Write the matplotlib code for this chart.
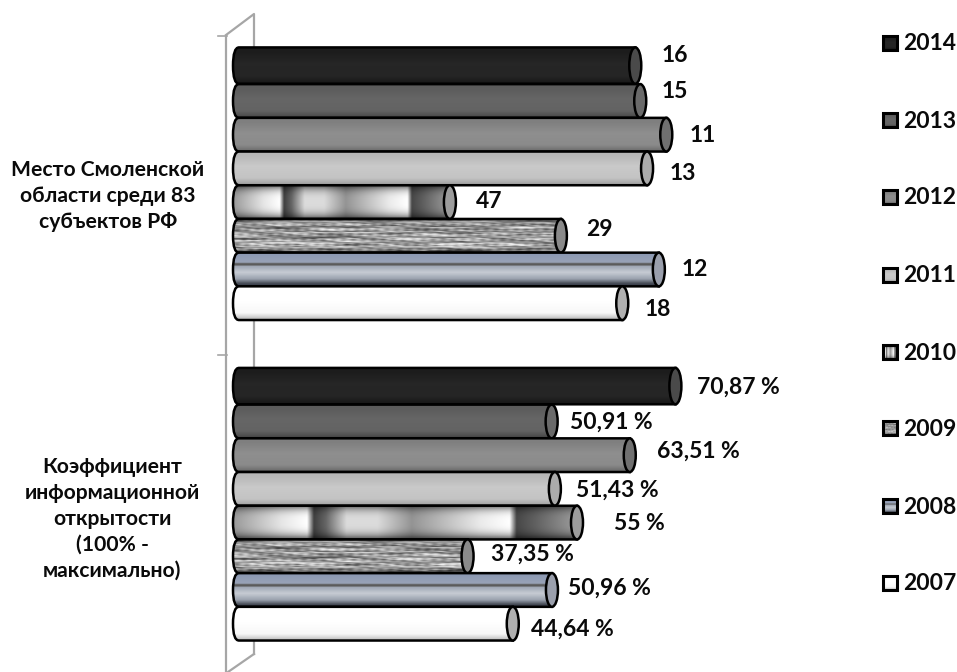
import numpy as np
import matplotlib
matplotlib.use("Agg")
import matplotlib.pyplot as plt
from matplotlib.patches import Ellipse, PathPatch, Rectangle
from matplotlib.path import Path

plt.rcParams['font.family'] = ['Lato', 'DejaVu Sans']
plt.rcParams['font.weight'] = 'bold'

# ---------- data ----------
years = ['2014', '2013', '2012', '2011', '2010', '2009', '2008', '2007']
group_labels = ['Место Смоленской\nобласти среди 83\nсубъектов РФ',
                'Коэффициент\nинформационной\nоткрытости\n(100% -\nмаксимально)']
# drawn bar lengths (rank group is drawn reversed)
rank_lengths = [64.4, 65.2, 69.4, 66.3, 34.5, 52.4, 68.2, 62.3]
rank_labels = ['16', '15', '11', '13', '47', '29', '12', '18']
coef_values = [70.87, 50.91, 63.51, 51.43, 55.0, 37.35, 50.96, 44.64]
coef_labels = ['70,87 %', '50,91 %', '63,51 %', '51,43 %', '55 %', '37,35 %', '50,96 %', '44,64 %']

# ---------- layout ----------
W, H = 957, 672
X0, PX_PER_UNIT = 236.0, 6.2
ROW, Y0 = 33.7, 67.3
GROUP_OFFSET = [0.0, 9.51]
rank_label_pos = [(662, 55), (662, 92), (690, 135), (670, 173), (476, 201), (586, 230), (682, 269), (645, 309)]
coef_label_pos = [(697, 387), (570, 422), (657, 451), (576, 490), (614, 523), (491, 554), (568, 588), (531, 629)]
legend_y = [43, 120, 197, 275, 352, 428, 506, 583]
cap_colors = ['#4a4a4a', '#6a6a6a', '#707070', '#ababab', '#9c9c9c', '#8a8a8a', '#9a9fac', '#b0b0b0']

fig = plt.figure(figsize=(W / 100, H / 100), dpi=100, facecolor='white')
over_back = fig.add_axes([0, 0, 1, 1], zorder=0)
ax = fig.add_axes([0, 0, 1, 1], zorder=1)
over = fig.add_axes([0, 0, 1, 1], zorder=2)
for a in (over_back, over):
    a.set_xlim(0, W); a.set_ylim(H, 0); a.axis('off'); a.patch.set_alpha(0)
ax.axis('off'); ax.patch.set_alpha(0)
XLIM = (-X0 / PX_PER_UNIT, (W - X0) / PX_PER_UNIT)
YLIM = ((H - Y0) / ROW, -Y0 / ROW)


def texture(idx, length=1.0, h=44):
    w = 500
    v = np.linspace(0, 1, h)[:, None]
    t = np.linspace(0, 1, w)[None, :]
    if idx in (0, 1, 2, 3, 7):
        base = {0: (.11, .15, .10), 1: (.36, .40, .30), 2: (.50, .56, .44),
                3: (.72, .79, .66), 7: (1.0, 1.0, .78)}[idx]
        g = np.interp(v, [0, .12, .45, .8, .95, 1],
                      [base[0], base[0], base[1], base[1] * .97, base[2], base[2] * .85])
        return np.dstack([g] * 3) * np.ones((h, w, 1))
    if idx == 4:
        kn = [0, .14, .215, .235, .27, .33, .42, .52, .72, .805, .825, .88, 1]
        va = [.60, .90, 1.0, .25, .40, .86, .86, .58, .92, 1.0, .28, .38, .62]
        g = np.interp(t, kn, va) * np.ones((h, w))
        g = g * (1 - 0.6 * np.abs(2 * v - 1) ** 3)
        return np.dstack([g] * 3)
    if idx == 5:
        xx = t * 500 * length
        yy = v * 44
        s = np.zeros((h, w))
        fx = [.013, .021, .034, .055, .089, .144, .233, .017, .071]
        fy = [.31, 1.27, .83, 2.11, 1.63, 2.71, .47, 1.91, 2.43]
        ph = [.4, 1.9, 3.1, 5.2, 2.3, 4.4, .9, 3.7, 1.2]
        for a_, b_, c_ in zip(fx, fy, ph):
            s = s + np.sin(a_ * xx + .35 * b_ * yy + c_) * np.sin(b_ * yy + c_ * 1.7) \
                * np.sin(a_ * 1.37 * xx + c_ * .6)
        g = .62 + .16 * s
        g = np.clip(g, .25, .95) * (1 - .55 * np.abs(2 * v - 1) ** 6)
        return np.dstack([g] * 3)
    # 2008 steel
    kn = [0, .05, .30, .335, .385, .41, .46, .60, .80, .92, 1]
    r = np.interp(v, kn, [.50, .55, .60, .36, .36, .62, .66, .78, .60, .30, .20])
    g = np.interp(v, kn, [.54, .60, .64, .36, .36, .65, .69, .80, .63, .32, .22])
    b = np.interp(v, kn, [.62, .70, .72, .36, .36, .70, .74, .83, .68, .36, .27])
    return np.dstack([r, g, b]) * np.ones((h, w, 1))


def rounded_path(x, y, w, h, r, a):
    yt, yb = y, y + h
    return Path([(x + w, yt), (x + a, yt), (x - r, yt), (x - r, yt + h * .5),
                 (x - r, yb), (x + a, yb), (x + w, yb), (x + w, yt)],
                [Path.MOVETO, Path.LINETO, Path.CURVE3, Path.CURVE3, Path.CURVE3, Path.CURVE3,
                 Path.LINETO, Path.CLOSEPOLY])


CAP_W = 12 / PX_PER_UNIT
END_R = 3 / PX_PER_UNIT
END_A = 3 / PX_PER_UNIT
for g, values in enumerate([rank_lengths, coef_values]):
    positions = [GROUP_OFFSET[g] + i - (.05 if i == 0 else 0) for i in range(len(values))]
    heights = [1.08 if i == 0 else 1.0 for i in range(len(values))]
    bars = ax.barh(positions, values, height=heights, left=0, color='none', edgecolor='none')
    for i, b in enumerate(bars):
        x, y, w, h = b.get_x(), b.get_y(), b.get_width(), b.get_height()
        z = 2 + i * .1
        path = rounded_path(x, y, w, h, END_R, END_A)
        clip = PathPatch(path, transform=ax.transData, facecolor='none', edgecolor='none')
        ax.add_patch(clip)
        im = ax.imshow(texture(i, w / 70), extent=(x - END_R, x + w, y + h, y), aspect='auto',
                       zorder=z, interpolation='bilinear', vmin=0, vmax=1)
        im.set_clip_path(clip)
        ax.add_patch(PathPatch(path, transform=ax.transData, facecolor='none', edgecolor='black',
                               lw=1.8, zorder=z + .01))
        ax.add_patch(Ellipse((x + w, y + h / 2), CAP_W, h, facecolor=cap_colors[i], edgecolor='black',
                             lw=1.8, zorder=z + .02))
ax.set_xlim(*XLIM)
ax.set_ylim(*YLIM)

# ---------- axis wall ----------
gray = '#a6a6a6'
over_back.plot([226, 226], [35, 672], color=gray, lw=1.6, solid_capstyle='butt')
over_back.plot([226, 254, 254], [35, 14, 654], color=gray, lw=1.6)
over_back.plot([254, 228], [654, 672], color=gray, lw=1.6)
for ty in (36, 355):
    over_back.plot([218, 227], [ty, ty], color=gray, lw=1.2)

# ---------- labels ----------
for lab, (px, py) in zip(rank_labels + coef_labels, rank_label_pos + coef_label_pos):
    over.text(px, py, lab, fontsize=16.5, fontweight='bold', ha='left', va='center', color='#0a0a0a')
over.text(108, 196, group_labels[0], fontsize=15.2, fontweight='bold', ha='center', va='center',
          linespacing=1.4, color='#0a0a0a')
over.text(112, 519, group_labels[1], fontsize=15.2, fontweight='bold', ha='center', va='center',
          linespacing=1.37, color='#0a0a0a')

# ---------- legend ----------
for i, (yr, ly) in enumerate(zip(years, legend_y)):
    over.imshow(texture(i, .1), extent=(883, 897, ly + 7, ly - 7), aspect='auto', zorder=3, vmin=0, vmax=1)
    over.add_patch(Rectangle((883, ly - 7), 14, 14, facecolor='none', edgecolor='black', lw=2.2, zorder=4))
    over.text(903, ly + 1, yr, fontsize=16.5, fontweight='bold', ha='left', va='center', color='#0a0a0a')
over.set_xlim(0, W); over.set_ylim(H, 0)

fig.savefig('out.png', dpi=100, facecolor='white')
